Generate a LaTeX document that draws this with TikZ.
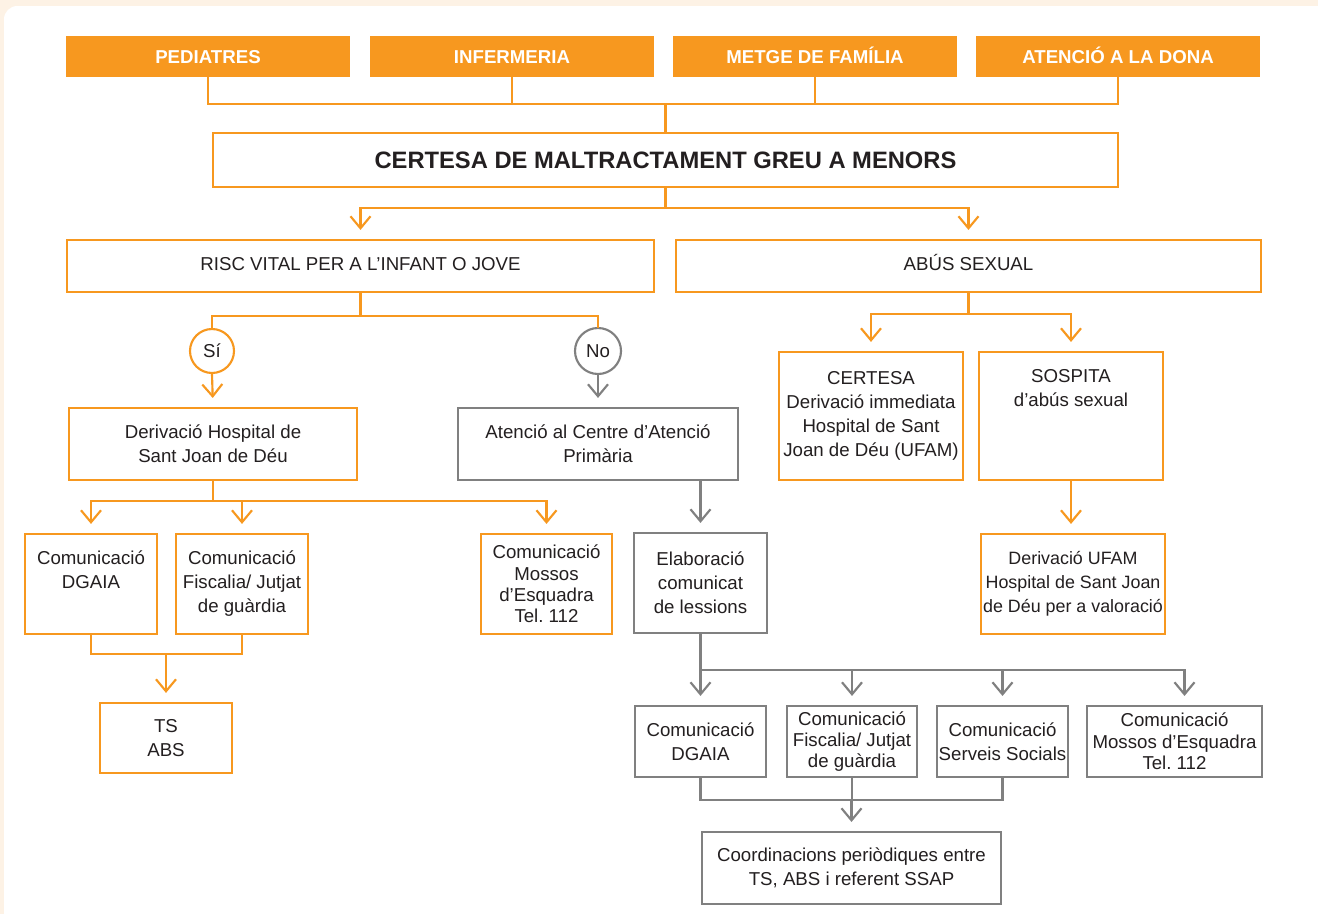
\documentclass[tikz,border=0pt]{standalone}
\usepackage{fontspec}
\setmainfont{Liberation Sans}
\frenchspacing
\usetikzlibrary{arrows.meta,calc}
\definecolor{orng}{HTML}{F7981F}
\definecolor{grayln}{HTML}{808080}
\definecolor{ink}{HTML}{231F20}
\definecolor{cream}{HTML}{FDF2E5}

\begin{document}
\begin{tikzpicture}[x=0.75pt,y=-0.75pt,
  sz/.style 2 args={minimum width=#1*0.75pt,minimum height=#2*0.75pt},
  base/.style={inner sep=0pt,align=center,text=ink,font=\fontsize{14}{18}\selectfont},
  tight/.style={font=\fontsize{14}{16}\selectfont},
  oneline/.style={text height=10pt,text depth=0pt},
  hdr/.style={base,oneline,fill=orng,text=white,font=\fontsize{14}{18}\selectfont\bfseries},
  obox/.style={base,draw=orng,line width=1.1pt,fill=white},
  gbox/.style={base,draw=grayln,line width=1.1pt,fill=white},
  olink/.style={draw=orng,line width=1.6pt,line cap=rect},
  glink/.style={draw=grayln,line width=1.6pt,line cap=rect},
  oarr/.style={olink,-{Straight Barb[length=9pt,width=15pt]},shorten >=7pt},
  garr/.style={glink,-{Straight Barb[length=9pt,width=15pt]},shorten >=7pt}
]
% page and panel
\useasboundingbox (0,0) rectangle (1318,914);
\clip (0,0) rectangle (1318,914);
\fill[cream] (0,0) rectangle (1318,914);
\fill[white,rounded corners=10pt] (4,6) rectangle (1340,936);

% bus levels
\coordinate (b1) at (0,104);
\coordinate (b2) at (0,208);
\coordinate (b3) at (0,316);
\coordinate (b5) at (0,501);
\coordinate (b6) at (0,654);
\coordinate (b8) at (0,670);
\coordinate (b9) at (0,800);
\coordinate (b10) at (0,314);

% header row
\node[hdr,sz={284}{41}] (ped) at (208,56.5) {PEDIATRES};
\node[hdr,sz={284}{41}] (inf) at (512,56.5) {INFERMERIA};
\node[hdr,sz={284}{41}] (met) at (815,56.5) {METGE DE FAMÍLIA};
\node[hdr,sz={284}{41}] (ate) at (1118,56.5) {ATENCIÓ A LA DONA};

\node[obox,sz={905}{54},font=\fontsize{17.8}{20}\selectfont\bfseries,text height=12.8pt,text depth=0pt] (title) at (665.5,160)
  {CERTESA DE MALTRACTAMENT GREU A MENORS};

\node[obox,oneline,sz={587}{52}] (risc) at (360.5,266) {\raisebox{1.5pt}{RISC VITAL PER A L’INFANT O JOVE}};
\node[obox,oneline,sz={585}{52}] (abus) at (968.5,266) {\raisebox{1.5pt}{ABÚS SEXUAL}};

% yes / no branch
\node[obox,circle,line width=1.6pt,sz={44}{44}] (si) at (212,351) {Sí};
\node[gbox,circle,line width=1.6pt,sz={46}{46}] (no) at (598,351) {No};

\node[obox,sz={288}{72}] (derivh) at (213,444) {Derivació Hospital de\\Sant Joan de Déu};
\node[gbox,sz={280}{72}] (atencio) at (598,444) {Atenció al Centre d’Atenció\\Primària};

\node[obox,sz={132}{100}] (dga1) at (91,584) {\raisebox{-1.5pt}{\begin{tabular}{@{}c@{}}Comunicació\\DGAIA\\\strut\end{tabular}}};
\node[obox,sz={132}{100}] (fisc1) at (242,584) {Comunicació\\Fiscalia/ Jutjat\\de guàrdia};
\node[obox,tight,sz={131}{100}] (mos1) at (546.5,584) {Comunicació\\Mossos\\d’Esquadra\\Tel. 112};
\node[obox,sz={132}{70}] (ts) at (166,738) {TS\\ABS};

\node[gbox,sz={133}{100}] (elab) at (700.5,583) {Elaboració\\comunicat\\de lessions};

\node[gbox,sz={131}{71}] (dg2) at (700.5,741.5) {Comunicació\\DGAIA};
\node[gbox,tight,sz={130}{71}] (fi2) at (852,741.5) {Comunicació\\Fiscalia/ Jutjat\\de guàrdia};
\node[gbox,sz={131}{71}] (ss2) at (1002.5,741.5) {Comunicació\\Serveis Socials};
\node[gbox,tight,sz={175}{71}] (mo2) at (1174.5,741.5) {Comunicació\\Mossos d’Esquadra\\Tel. 112};
\node[gbox,sz={299}{72}] (coord) at (851.5,868) {Coordinacions periòdiques entre\\TS, ABS i referent SSAP};

% sexual abuse branch
\node[obox,sz={184}{128}] (cert) at (871,416) {CERTESA\\Derivació immediata\\Hospital de Sant\\Joan de Déu (UFAM)};
\node[obox,sz={184}{128}] (sosp) at (1071,416) {SOSPITA\\d’abús sexual\\\strut\\\strut};
\node[obox,sz={184}{100},font=\fontsize{13.4}{18}\selectfont] (ufam) at (1073,584) {Derivació UFAM\\Hospital de Sant Joan\\de Déu per a valoració};

% connectors: header to title
\draw[olink] (ped.south) |- (b1 -| ate.south) -- (ate.south);
\draw[olink] (inf.south) -- (inf.south |- b1);
\draw[olink] (met.south) -- (met.south |- b1);
\draw[olink] (title.north) -- (title.north |- b1);

% title to the two cases
\draw[olink] (title.south) -- (title.south |- b2);
\draw[oarr] (abus.north |- b2) -| (risc.north);
\draw[oarr] (abus.north |- b2) -- (abus.north);

% vital risk
\draw[olink] (risc.south) -- (risc.south |- b3);
\draw[olink] (si.north) |- (b3 -| no.north) -- (no.north);
\draw[oarr] (si.south) -- (derivh.north);
\draw[garr] (no.south) -- (atencio.north);

\draw[olink] (derivh.south) -- (derivh.south |- b5);
\draw[oarr] (b5 -| mos1.north) -| (dga1.north);
\draw[oarr] (b5 -| fisc1.north) -- (fisc1.north);
\draw[oarr] (b5 -| mos1.north) -- (mos1.north);

\draw[olink] (dga1.south) |- (b6 -| fisc1.south) -- (fisc1.south);
\draw[oarr] (b6 -| ts.north) -- (ts.north);

\draw[garr] (atencio.south -| elab.north) -- (elab.north);
\draw[glink] (elab.south) -- (elab.south |- b8);
\draw[garr] (elab.south |- b8) -| ($(mo2.north)+(10,0)$);
\draw[garr] (b8 -| dg2.north) -- (dg2.north);
\draw[garr] (b8 -| fi2.north) -- (fi2.north);
\draw[garr] (b8 -| ss2.north) -- (ss2.north);

\draw[glink] (dg2.south) |- (b9 -| ss2.south) -- (ss2.south);
\draw[glink] (fi2.south) -- (fi2.south |- b9);
\draw[garr] (b9 -| coord.north) -- (coord.north);

% sexual abuse
\draw[olink] (abus.south) -- (abus.south |- b10);
\draw[oarr] (b10 -| sosp.north) -| (cert.north);
\draw[oarr] (b10 -| sosp.north) -- (sosp.north);
\draw[oarr] (sosp.south) -- (sosp.south |- ufam.north);
\end{tikzpicture}
\end{document}
